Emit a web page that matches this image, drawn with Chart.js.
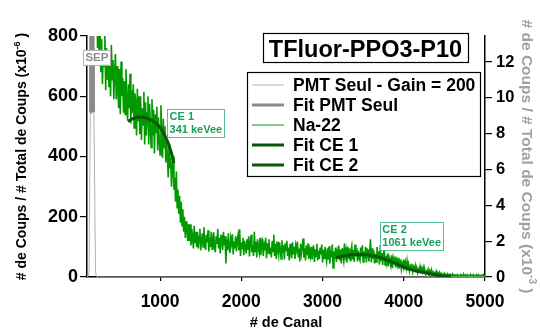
<!DOCTYPE html>
<html>
<head>
<meta charset="utf-8">
<script src="https://cdn.jsdelivr.net/npm/chart.js@4.4.1/dist/chart.umd.min.js"></script>
<style>
  html, body { margin: 0; padding: 0; background: #fff; }
  canvas { display: block; }
</style>
</head>
<body>
<canvas id="spectre" width="540" height="336"></canvas>
<script>
// ---- Na-22 spectrum (left axis, x10^-6): one value every 10 channels from channel 160
const naFirstChannel = 160;
const naChannelStep = 10;
const naCounts = [
  975, 850, 930, 805, 905, 860, 940, 760, 835, 720,
  820, 680, 790, 640, 745, 700, 810, 620, 760, 655,
  745, 630, 700, 600, 770, 655, 720, 590, 680, 740,
  590, 700, 620, 560, 690, 540, 715, 600, 660, 545,
  650, 540, 690, 575, 520, 640, 560, 675, 510, 620,
  545, 640, 495, 610, 580, 470, 625, 520, 600, 475,
  600, 455, 560, 505, 615, 440, 580, 470, 545, 600,
  440, 575, 500, 430, 590, 470, 555, 410, 540, 480,
  565, 420, 530, 455, 405, 570, 480, 395, 525, 430,
  500, 380, 455, 400, 330, 440, 360, 395, 300, 370,
  400, 290, 330, 250, 350, 230, 290, 210, 270, 180,
  250, 170, 225, 150, 200, 130, 185, 160, 120, 175,
  120, 175, 105, 160, 130, 95, 170, 115, 150, 100,
  150, 95, 135, 160, 88, 120, 145, 100, 165, 110,
  90, 140, 115, 155, 85, 130, 100, 150, 92, 125,
  148, 100, 82, 135, 110, 160, 95, 130, 78, 140,
  120, 90, 150, 105, 135, 45, 125, 88, 145, 100,
  80, 130, 112, 142, 75, 118, 95, 135, 85, 125,
  140, 88, 158, 70, 115, 95, 130, 72, 120, 100,
  78, 125, 90, 135, 68, 112, 140, 82, 105, 70,
  150, 85, 118, 65, 125, 95, 80, 130, 72, 110,
  120, 70, 105, 88, 130, 62, 112, 80, 125, 75,
  98, 65, 120, 85, 140, 70, 110, 60, 118, 90,
  72, 115, 95, 60, 122, 80, 105, 58, 112, 88,
  120, 70, 98, 55, 110, 82, 62, 115, 75, 100,
  60, 105, 90, 118, 68, 95, 52, 110, 78, 100,
  128, 65, 95, 55, 105, 75, 112, 60, 90, 70,
  100, 58, 85, 105, 50, 92, 68, 110, 55, 88,
  60, 98, 75, 108, 48, 90, 62, 100, 70, 52,
  95, 58, 102, 45, 88, 65, 108, 30, 85, 60,
  98, 50, 82, 62, 104, 55, 90, 45, 95, 68,
  52, 112, 70, 88, 48, 100, 60, 95, 55, 85,
  102, 58, 90, 50, 108, 72, 96, 52, 88, 62,
  55, 98, 68, 105, 50, 85, 62, 100, 48, 92,
  90, 52, 80, 125, 48, 95, 60, 88, 45, 78,
  50, 100, 62, 85, 42, 106, 55, 80, 40, 75,
  90, 40, 70, 48, 78, 35, 65, 52, 38, 72,
  30, 62, 45, 68, 32, 55, 40, 64, 28, 52,
  55, 26, 45, 35, 58, 24, 48, 30, 52, 22,
  40, 20, 36, 28, 44, 18, 33, 25, 38, 16,
  30, 14, 26, 20, 34, 12, 28, 17, 31, 13,
  22, 9, 19, 14, 25, 8, 20, 12, 23, 7,
  16, 6, 14, 9, 18, 5, 13, 8, 15, 4,
  11, 3, 9, 6, 12, 3, 8, 5, 10, 2,
  8, 2, 6, 3, 9, 1, 7, 3, 6, 1,
  7, 1, 5, 3, 8, 1, 6, 2, 7, 1,
  6, 1, 7, 2, 5, 1, 8, 2, 6, 1,
  7, 2, 5, 1, 6, 2, 7, 1, 5, 2,
  6, 1, 7, 2, 5
];

// ---- Compton edge fits (left axis, x10^-6)
const ce1Channels = [605, 650, 700, 750, 800, 850, 900, 950, 1000, 1050, 1100, 1140, 1170];
const ce1Values   = [516, 524, 529, 531, 530, 526, 520, 510, 497, 475, 445, 412, 378];
const ce2Channels = [3170, 3250, 3350, 3450, 3550, 3650, 3750, 3850, 3950, 4050, 4150, 4250, 4350, 4450, 4580];
const ce2Values   = [64, 70, 74, 75, 74, 69, 61, 50, 39, 28, 20, 15, 9, 4, 1];

// ---- PMT alone, gain 200 (right axis, x10^-3)
const pmtChannels = [100, 115, 125, 160, 205, 215, 240, 5000];
const pmtValues   = [0, 0.05, 0.3, 20.4, 0.3, 0.05, 0, 0];
const pmtFitChannels = [140, 145, 150, 155, 160, 165, 170, 175, 180];
const pmtFitValues   = [9.2, 12.5, 16, 18.6, 20, 18.8, 16.3, 12.8, 9.2];

// ---- Axis ticks
const xTicks = [1000, 2000, 3000, 4000, 5000];
const yLeftTicks = [0, 200, 400, 600, 800];
const yRightTicks = [0, 2, 4, 6, 8, 10, 12];

// ---- Texts
const chartTitle = 'TFluor-PPO3-P10';
const seriesNames = ['PMT Seul - Gain = 200', 'Fit PMT Seul', 'Na-22', 'Fit CE 1', 'Fit CE 2'];
const xTitle = '# de Canal';
const yTitleBase = '# de Coups / # Total de Coups (x10';
const yLeftExp = '-6';
const yRightExp = '-3';
const peakNames = ['CE 1', 'CE 2'];
const peakEnergies = ['341 keVee', '1061 keVee'];
const pmtPeakName = 'SEP';

const FONT = "'Liberation Sans', Arial, Helvetica, sans-serif";

const pts = (xs, ys) => xs.map((x, i) => ({ x, y: ys[i] }));
const naPoints = naCounts.map((v, i) => ({ x: naFirstChannel + i * naChannelStep, y: v }));

function supTitle(ctx, base, sup, tail, cx, cy, angle, size, color) {
  ctx.save();
  ctx.translate(cx, cy);
  ctx.rotate(angle);
  const fMain = `bold ${size}px ${FONT}`;
  const fSup = `bold ${Math.round(size * 0.64)}px ${FONT}`;
  ctx.font = fMain;
  const w1 = ctx.measureText(base).width;
  const w3 = ctx.measureText(tail).width;
  ctx.font = fSup;
  const w2 = ctx.measureText(sup).width;
  const x0 = -(w1 + w2 + w3) / 2;
  const by = size * 0.36;
  ctx.fillStyle = color;
  ctx.textAlign = 'left';
  ctx.textBaseline = 'alphabetic';
  ctx.font = fMain; ctx.fillText(base, x0, by);
  ctx.font = fSup; ctx.fillText(sup, x0 + w1, by - size * 0.42);
  ctx.font = fMain; ctx.fillText(tail, x0 + w1 + w2, by);
  ctx.restore();
}

function noteBox(ctx, lines, left, top, size, textColor, borderColor, lineGap) {
  ctx.save();
  ctx.font = `bold ${size}px ${FONT}`;
  const w = Math.max(...lines.map(t => ctx.measureText(t).width)) + 4;
  const h = lines.length * lineGap + 2;
  ctx.fillStyle = '#fff';
  ctx.fillRect(left, top, w, h);
  ctx.strokeStyle = borderColor;
  ctx.lineWidth = 1;
  ctx.strokeRect(Math.round(left) + 0.5, Math.round(top) + 0.5, Math.round(w), Math.round(h));
  ctx.fillStyle = textColor;
  ctx.textAlign = 'left';
  ctx.textBaseline = 'middle';
  lines.forEach((t, i) => ctx.fillText(t, left + 2.5, top + 1.5 + lineGap * (i + 0.5)));
  ctx.restore();
}

const decorations = {
  id: 'decorations',
  afterDatasetsDraw(chart) {
    const { ctx, scales } = chart;
    const x = scales.x, y = scales.y;

    // Peak notes
    noteBox(ctx, [pmtPeakName], x.getPixelForValue(50), y.getPixelForValue(754), 11.5, '#8c8c8c', '#b0b0b0', 13);
    noteBox(ctx, [peakNames[0], peakEnergies[0]], x.getPixelForValue(1086), y.getPixelForValue(557), 11, '#17a05d', '#55bd8e', 13);
    noteBox(ctx, [peakNames[1], peakEnergies[1]], x.getPixelForValue(3705), y.getPixelForValue(182), 11, '#17a05d', '#55bd8e', 13);

    // Title box
    ctx.save();
    ctx.font = `bold 23.5px ${FONT}`;
    const tw = ctx.measureText(chartTitle).width;
    const tcx = 365.5, tTop = 33, tH = 29;
    ctx.fillStyle = '#fff';
    ctx.fillRect(tcx - tw / 2 - 6, tTop, tw + 12, tH);
    ctx.strokeStyle = '#000';
    ctx.lineWidth = 1.2;
    ctx.strokeRect(Math.round(tcx - tw / 2 - 6) + 0.5, tTop + 0.5, Math.round(tw + 12), tH);
    ctx.fillStyle = '#000';
    ctx.textAlign = 'center';
    ctx.textBaseline = 'alphabetic';
    ctx.fillText(chartTitle, tcx, tTop + 24);
    ctx.restore();

    // Legend
    ctx.save();
    const lgLeft = 247, lgTop = 72, rowH = 20;
    ctx.font = `bold 17.5px ${FONT}`;
    const maxW = Math.max(...chart.data.datasets.map(d => ctx.measureText(d.label).width));
    const lgW = Math.max(233, 46 + maxW + 3);
    const lgH = chart.data.datasets.length * rowH + 4;
    ctx.fillStyle = '#fff';
    ctx.fillRect(lgLeft, lgTop, lgW, lgH);
    ctx.strokeStyle = '#000';
    ctx.lineWidth = 1.2;
    ctx.strokeRect(lgLeft + 0.5, lgTop + 0.5, Math.round(lgW), lgH);
    chart.data.datasets.forEach((d, i) => {
      const cy = lgTop + 13 + i * rowH;
      ctx.strokeStyle = d.borderColor;
      ctx.lineWidth = d.keyWidth || d.borderWidth;
      ctx.beginPath();
      ctx.moveTo(lgLeft + 5, cy);
      ctx.lineTo(lgLeft + 37, cy);
      ctx.stroke();
      ctx.fillStyle = '#000';
      ctx.textAlign = 'left';
      ctx.textBaseline = 'middle';
      ctx.fillText(d.label, lgLeft + 46, cy + 1);
    });
    ctx.restore();

    // Axis titles
    const midY = (chart.chartArea.top + chart.chartArea.bottom) / 2;
    supTitle(ctx, yTitleBase, yLeftExp, ' )', 21, midY, -Math.PI / 2, 14, '#000');
    supTitle(ctx, yTitleBase, yRightExp, ' )', 528, midY, Math.PI / 2, 15.5, '#a0a0a0');
    ctx.save();
    ctx.font = `bold 14.5px ${FONT}`;
    ctx.fillStyle = '#000';
    ctx.textAlign = 'center';
    ctx.textBaseline = 'middle';
    ctx.fillText(xTitle, (chart.chartArea.left + chart.chartArea.right) / 2, 323);
    ctx.restore();
  }
};

const tickFont = size => ({ family: FONT, size, weight: 'bold', lineHeight: 1.2 });
const setTicks = list => scale => { scale.ticks = list.map(v => ({ value: v })); };

new Chart(document.getElementById('spectre'), {
  type: 'line',
  data: {
    datasets: [
      { label: seriesNames[0], data: pts(pmtChannels, pmtValues), yAxisID: 'y2',
        borderColor: '#b4b4b4', borderWidth: 1, order: 1 },
      { label: seriesNames[1], data: pts(pmtFitChannels, pmtFitValues), yAxisID: 'y2',
        borderColor: '#8a8a8a', borderWidth: 3, order: 0 },
      { label: seriesNames[2], data: naPoints, yAxisID: 'y',
        borderColor: '#009900', borderWidth: 1.6, keyWidth: 1, order: 2 },
      { label: seriesNames[3], data: pts(ce1Channels, ce1Values), yAxisID: 'y',
        borderColor: '#0c540c', borderWidth: 3, order: 0 },
      { label: seriesNames[4], data: pts(ce2Channels, ce2Values), yAxisID: 'y',
        borderColor: '#0c540c', borderWidth: 3, order: 0 }
    ]
  },
  options: {
    responsive: false,
    animation: false,
    devicePixelRatio: 1,
    layout: { padding: { top: 36, left: 0, right: 0, bottom: 0 } },
    elements: { point: { radius: 0 }, line: { tension: 0, fill: false } },
    plugins: { legend: { display: false }, tooltip: { enabled: false }, title: { display: false } },
    scales: {
      x: {
        type: 'linear', position: 'bottom', min: 100, max: 5000, bounds: 'data',
        afterBuildTicks: setTicks(xTicks),
        afterFit: s => { s.height = 59; },
        border: { display: true, color: '#000', width: 1.5 },
        grid: { drawOnChartArea: false, drawTicks: true, tickLength: 4, color: '#000', lineWidth: 1.2 },
        ticks: { color: '#000', font: tickFont(17.5), padding: 11, maxRotation: 0, autoSkip: false,
                 callback: v => String(v) }
      },
      y: {
        type: 'linear', position: 'left', min: 0, max: 800, bounds: 'data',
        afterBuildTicks: setTicks(yLeftTicks),
        afterFit: s => { s.width = 87; },
        border: { display: true, color: '#000', width: 1.5 },
        grid: { drawOnChartArea: false, drawTicks: true, tickLength: 7, color: '#000', lineWidth: 1.2 },
        ticks: { color: '#000', font: tickFont(18), padding: 2, autoSkip: false, callback: v => String(v) }
      },
      y2: {
        type: 'linear', position: 'right', min: 0, max: 13.45, bounds: 'data',
        afterBuildTicks: setTicks(yRightTicks),
        afterFit: s => { s.width = 55; },
        border: { display: true, color: '#000', width: 1.5 },
        grid: { drawOnChartArea: false, drawTicks: true, tickLength: 7, color: '#000', lineWidth: 1.2 },
        ticks: { color: '#000', font: tickFont(16.5), padding: 4, autoSkip: false, callback: v => String(v) }
      }
    }
  },
  plugins: [decorations]
});
</script>
</body>
</html>
